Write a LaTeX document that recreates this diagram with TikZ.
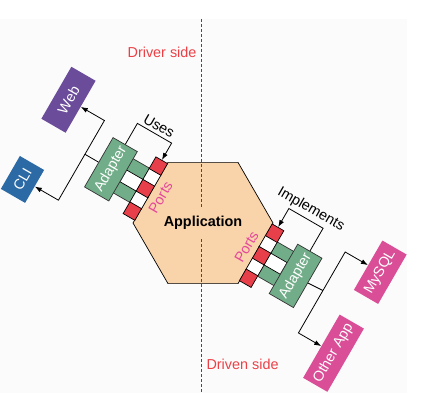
\documentclass[tikz,border=0pt]{standalone}
\usepackage{fontspec}
\setmainfont{Liberation Sans}
\usepackage{xcolor}
\usetikzlibrary{arrows.meta,shapes.geometric}

\definecolor{panelgray}{HTML}{FBFBFB}
\definecolor{hexfill}{HTML}{F9D3A9}
\definecolor{portred}{HTML}{E8404A}
\definecolor{adgreen}{HTML}{72AD89}
\definecolor{webpurple}{HTML}{6A4C9B}
\definecolor{cliblue}{HTML}{2C6AA6}
\definecolor{dbpink}{HTML}{D94E96}
\definecolor{portpink}{HTML}{E5479C}
\definecolor{sidered}{HTML}{EC4046}

\tikzset{
  every node/.style={font=\fontsize{14.4}{17}\selectfont},
  hexagon/.style={regular polygon, regular polygon sides=6, minimum size=140pt,
    inner sep=0pt, draw=black, line width=0.7pt, fill=hexfill},
  applabel/.style={fill=hexfill, inner xsep=2pt, inner ysep=8pt, font=\fontsize{14.4}{17}\selectfont\bfseries},
  divider/.style={draw=black!70, line width=0.9pt, dash pattern=on 3pt off 2pt},
  sidetext/.style={text=sidered},
  port/.style={draw=black, line width=0.7pt, fill=portred, minimum size=13.5pt, inner sep=0pt, rotate=60},
  socket/.style={port, fill=white},
  plug/.style={draw=black!80, line width=0.7pt, fill=adgreen, minimum width=13.5pt,
    minimum height=21pt, inner sep=0pt, rotate=60},
  adapter/.style={draw=black!80, line width=0.7pt, fill=adgreen, text=white,
    minimum width=57pt, minimum height=28pt, inner sep=0pt, rotate=60},
  ext/.style={text=white, minimum height=28pt, inner sep=0pt, rotate=60},
  portlabel/.style={text=portpink, rotate=60, inner sep=1pt},
  tag/.style={rotate=-30},
  link/.style={line width=0.8pt},
  arr/.style={link, -{Latex[length=7pt,width=5pt]}},
}

\begin{document}
\begin{tikzpicture}[x=1pt,y=1pt]
\useasboundingbox (0,0) rectangle (423,408);
\fill[panelgray] (0,15) rectangle (407,389);

\node[hexagon] (app) at (203,185) {};
\coordinate (divtop) at (201,389);
\coordinate (divbot) at (201,15);
\draw[divider] (divtop) -- (divbot);
\node[applabel] (applbl) at (app) {Application};
\node[sidetext, anchor=east] (driver) at (200,356) {Driver side};
\node[sidetext, anchor=west] (driven) at (203,44) {Driven side};

% driver side
\begin{scope}[shift={(134.75,188)},rotate=60]
  \foreach \i in {1,3} {
    \node[plug] (lg\i) at (13*\i+6.5,23.5) {};
    \node[socket] (ls\i) at (13*\i+6.5,6.5) {};
  }
  \node[socket, minimum height=19pt] (ls2) at (32.5,22.5) {};
  \foreach \i in {0,2,4}
    \node[port] (lp\i) at (13*\i+6.5,6.5) {};
  \node[adapter] (lad) at (32,46) {Adapter};
  \node[portlabel] (lports) at (32.5,-11) {Ports};
  \node[ext, fill=webpurple, minimum width=60pt] (web) at (71,117.5) {Web};
  \node[ext, fill=cliblue, minimum width=38pt] (cli) at (-21,117.5) {CLI};
  \coordinate (lu1) at (85,46);
  \coordinate (lu2) at (85,6.5);
  \coordinate (lstub) at (32,76);
  \coordinate (ltop) at (71,76);
  \coordinate (lbot) at (-21,76);
  \draw[arr] (lad.east) -- (lu1) -- (lu2) -- (lp4.east);
  \node[tag, anchor=south] (uses) at (85,26) {Uses};
  \draw[link] (lad.north) -- (lstub);
  \draw[arr] (lstub) -- (ltop) -- (web.south);
  \draw[arr] (lstub) -- (lbot) -- (cli.south);
\end{scope}

% driven side
\begin{scope}[shift={(239.75,127.4)},rotate=60,yscale=-1]
  \foreach \i in {1,3} {
    \node[plug] (rg\i) at (13*\i+6.5,23.5) {};
    \node[socket] (rs\i) at (13*\i+6.5,6.5) {};
  }
  \node[socket, minimum height=19pt] (rs2) at (32.5,22.5) {};
  \foreach \i in {0,2,4}
    \node[port] (rp\i) at (13*\i+6.5,6.5) {};
  \node[adapter] (rad) at (32,46) {Adapter};
  \node[portlabel] (rports) at (32.5,-11) {Ports};
  \node[ext, fill=dbpink, minimum width=57pt] (mysql) at (77.5,117.5) {MySQL};
  \node[ext, fill=dbpink, minimum width=73pt] (other) at (-16,117.5) {Other App};
  \coordinate (ru1) at (87,46);
  \coordinate (ru2) at (87,6.5);
  \coordinate (rstub) at (33,77);
  \coordinate (rtop) at (77.5,77);
  \coordinate (rbot) at (-16,77);
  \draw[arr] (rad.east) -- (ru1) -- (ru2) -- (rp4.east);
  \node[tag, anchor=south] (impl) at (87,26) {Implements};
  \draw[link] (rad.south) -- (rstub);
  \draw[arr] (rstub) -- (rtop) -- (mysql.north);
  \draw[arr] (rstub) -- (rbot) -- (other.north);
\end{scope}
\end{tikzpicture}
\end{document}
